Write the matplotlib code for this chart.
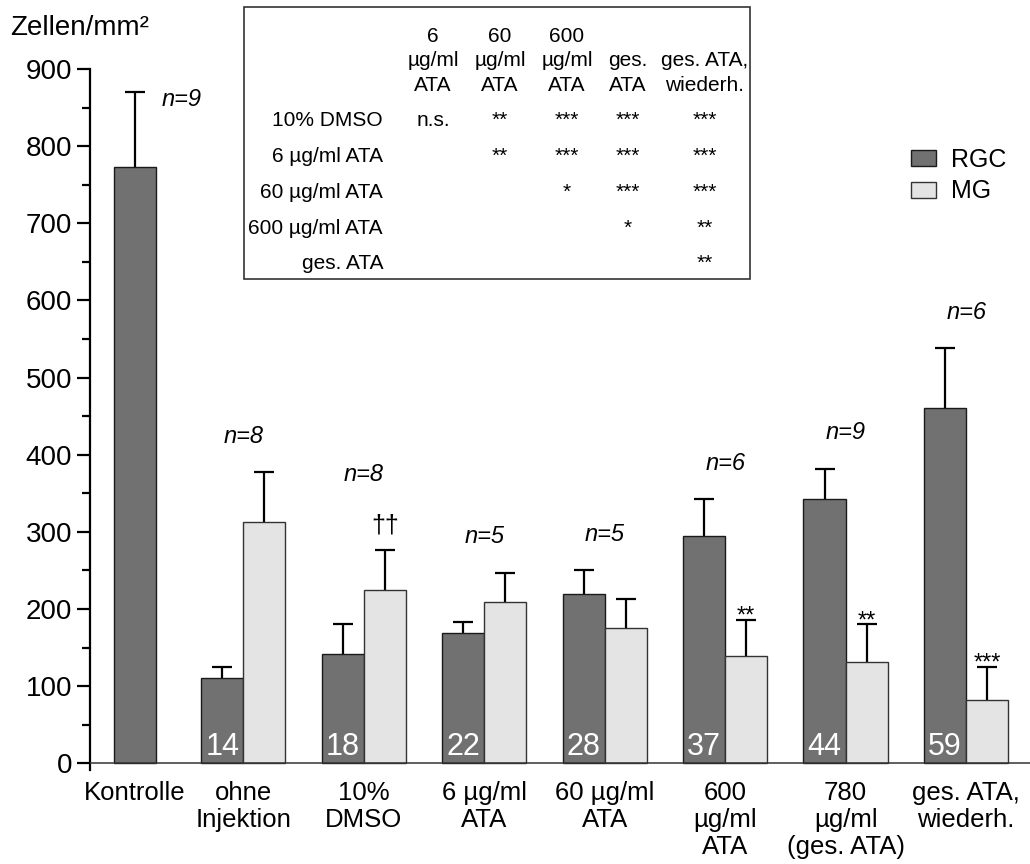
import matplotlib
matplotlib.use('Agg')
import matplotlib.pyplot as plt
import numpy as np
from matplotlib.ticker import MultipleLocator
from matplotlib.patches import Rectangle

plt.rcParams['font.family'] = ['Liberation Sans', 'DejaVu Sans']

# data
groups = ['Kontrolle', 'ohne\nInjektion', '10%\nDMSO', '6 µg/ml\nATA', '60 µg/ml\nATA',
          '600\nµg/ml\nATA', '780\nµg/ml\n(ges. ATA)', 'ges. ATA,\nwiederh.']
rgc = [773, 110, 142, 169, 220, 294, 343, 460]
rgc_err = [97, 15, 38, 14, 30, 48, 39, 78]
mg = [313, 224, 209, 175, 139, 131, 82]      # no MG bar for Kontrolle
mg_err = [64, 53, 38, 38, 47, 49, 43]
n_animals = [9, 8, 8, 5, 5, 6, 9, 6]
bar_numbers = ['14', '18', '22', '28', '37', '44', '59']
mg_sig = ['', '††', '', '', '**', '**', '***']

tab_cols = ['6\nµg/ml\nATA', '60\nµg/ml\nATA', '600\nµg/ml\nATA', 'ges.\nATA', 'ges. ATA,\nwiederh.']
tab_rows = ['10% DMSO', '6 µg/ml ATA', '60 µg/ml ATA', '600 µg/ml ATA', 'ges. ATA']
tab_cells = [['n.s.', '**', '***', '***', '***'],
             ['', '**', '***', '***', '***'],
             ['', '', '*', '***', '***'],
             ['', '', '', '*', '**'],
             ['', '', '', '', '**']]

dark = '#717171'
light = '#e4e4e4'
W, H = 1030, 864

fig = plt.figure(figsize=(W / 100, H / 100), dpi=100)
ax = fig.add_axes([0.0874, 0.1086, 0.9126, 0.8115])

x = np.arange(len(groups), dtype=float)
x[0] += 0.1
w = 0.35
xr = np.concatenate([[x[0]], x[1:] - w / 2])
xm = x[1:] + w / 2

ax.bar(xr, rgc, w, color=dark, edgecolor='#1a1a1a', linewidth=1, label='RGC', zorder=2)
ax.bar(xm, mg, w, color=light, edgecolor='#333333', linewidth=1, label='MG', zorder=2)
for xs, vals, errs in [(xr, rgc, rgc_err), (xm, mg, mg_err)]:
    eb = ax.errorbar(xs, vals, yerr=[np.zeros(len(vals)), errs], fmt='none', ecolor='black',
                     elinewidth=1.6, capsize=7, capthick=1.6, zorder=1)
    eb[1][0].set_visible(False)   # hide the lower caps

# n labels
rtop = np.array(rgc) + np.array(rgc_err)
mtop = np.array(mg) + np.array(mg_err)
ax.text(x[0] + 0.39, 860, 'n=%d' % n_animals[0], style='italic', fontsize=17,
        ha='center', va='center')
for i in range(1, len(groups)):
    y = max(rtop[i], mtop[i - 1]) + 47
    if mg_sig[i - 1] == '††':
        y += 50
    ax.text(x[i], y, 'n=%d' % n_animals[i], style='italic', fontsize=17,
            ha='center', va='center')

for i, s in enumerate(mg_sig):
    if s == '††':
        ax.text(xm[i], mtop[i] + 22, s, fontsize=18, ha='center', va='baseline')
    elif s:
        ax.text(xm[i], mtop[i] - 4, s, fontsize=17, ha='center', va='baseline')

for i, s in enumerate(bar_numbers):
    ax.text(xr[i + 1], 11, s, color='white', fontsize=22, ha='center', va='baseline', zorder=3)

ax.set_xlim(-0.272, 7.53)
ax.set_ylim(-9, 900)
ax.axhline(0, color='#333333', lw=1.1, zorder=3)
for s in ['top', 'right', 'bottom']:
    ax.spines[s].set_visible(False)
ax.spines['left'].set_linewidth(1.6)
ax.set_yticks(np.arange(0, 901, 100))
ax.yaxis.set_minor_locator(MultipleLocator(50))
ax.tick_params(axis='y', which='major', length=9.5, width=1.6, labelsize=20, pad=3.5)
ax.tick_params(axis='y', which='minor', length=6, width=1.6)
ax.set_xticks(x)
ax.set_xticklabels(groups, fontsize=18.5, linespacing=1.16)
ax.tick_params(axis='x', length=0, pad=8)

fig.text(10 / W, 1 - 35 / H, 'Zellen/mm²', fontsize=20, va='baseline', ha='left')

# statistics table
fig.patches.append(Rectangle((244 / W, 1 - 279 / H), (750 - 244) / W, (279 - 7) / H,
                             transform=fig.transFigure, fill=False, edgecolor='#333333', lw=1.2))
col_x = [433, 500, 567, 628, 705]
row_y = [126, 162, 198, 234, 269]
for cx, c in zip(col_x, tab_cols):
    fig.text(cx / W, 1 - 95 / H, c, fontsize=15, ha='center', va='bottom', linespacing=1.38)
for ry, r, cells in zip(row_y, tab_rows, tab_cells):
    fig.text(383 / W, 1 - ry / H, r, fontsize=15, ha='right', va='baseline')
    for cx, c in zip(col_x, cells):
        if c:
            fig.text(cx / W, 1 - ry / H, c, fontsize=15, ha='center', va='baseline')

ax.legend(loc='upper left', bbox_to_anchor=(911 / W, 1 - 148 / H), bbox_transform=fig.transFigure,
          frameon=False, fontsize=18, handlelength=1.0, handleheight=0.6, handletextpad=0.6,
          labelspacing=0.3, borderpad=0, borderaxespad=0)

fig.savefig('out.png', dpi=100)
